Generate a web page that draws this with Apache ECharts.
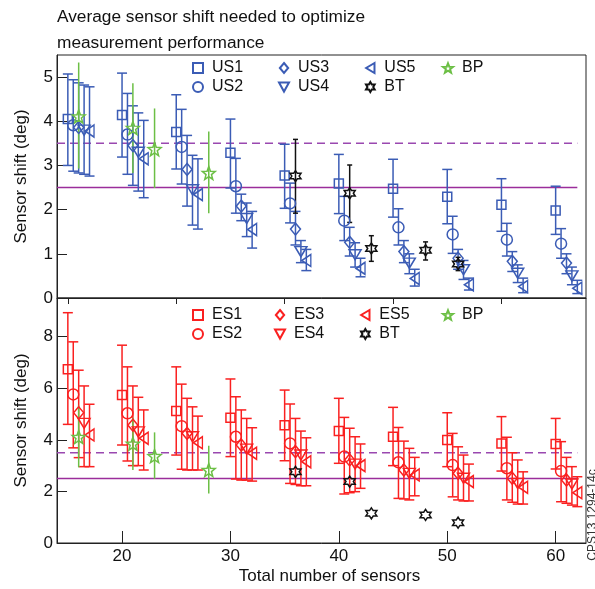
<!DOCTYPE html>
<html>
<head>
<meta charset="utf-8">
<script src="https://cdn.jsdelivr.net/npm/echarts@6/dist/echarts.min.js"></script>
<style>
  html, body { margin: 0; padding: 0; background: #fff; }
  #chart { width: 595px; height: 589px; }
</style>
</head>
<body>
<div id="chart"></div>
<script>
// group positions on x (total number of sensors) and the small offset of each sensor set
var groupX = [15, 20, 25, 30, 35, 40, 45, 50, 55, 60];
var setOffset = [0, 0.5, 1, 1.5, 2];

// each entry: [shift, low, high]
var us1 = [[4.05, 3.0, 5.07], [4.14, 3.19, 5.09], [3.76, 2.92, 4.6], [3.29, 2.49, 4.05], [2.77, 2.03, 3.48],
           [2.59, 1.91, 3.25], [2.47, 1.83, 3.14], [2.29, 1.68, 2.91], [2.11, 1.51, 2.7], [1.98, 1.44, 2.53]];
var us2 = [[3.91, 2.87, 4.94], [3.7, 2.8, 4.63], [3.42, 2.58, 4.27], [2.53, 1.92, 3.16], [2.14, 1.7, 2.6],
           [1.75, 1.3, 2.3], [1.6, 1.2, 2.02], [1.44, 1.01, 1.85], [1.32, 0.95, 1.69], [1.23, 0.9, 1.57]];
var us3 = [[3.86, 2.83, 4.87], [3.45, 2.55, 4.35], [2.91, 2.08, 3.68], [2.08, 1.75, 2.35], [1.56, 1.2, 1.96],
           [1.26, 0.95, 1.6], [1.05, 0.8, 1.3], [0.9, 0.65, 1.1], [0.83, 0.6, 1.05], [0.79, 0.55, 1.0]];
var us4 = [[3.8, 2.8, 4.82], [3.3, 2.42, 4.19], [2.45, 1.65, 3.23], [1.8, 1.39, 2.15], [1.05, 0.8, 1.3],
           [0.98, 0.7, 1.25], [0.79, 0.55, 1.0], [0.64, 0.42, 0.85], [0.56, 0.35, 0.75], [0.5, 0.3, 0.7]];
var us5 = [[3.78, 2.76, 4.78], [3.15, 2.27, 4.02], [2.34, 1.56, 3.15], [1.55, 1.13, 1.96], [0.85, 0.62, 1.1],
           [0.67, 0.48, 0.9], [0.44, 0.27, 0.65], [0.3, 0.18, 0.45], [0.26, 0.12, 0.45], [0.22, 0.1, 0.4]];

var es1 = [[6.74, 4.6, 8.93], [5.74, 3.8, 7.67], [5.12, 3.41, 6.83], [4.86, 3.35, 6.36], [4.57, 3.19, 5.93],
           [4.34, 3.09, 5.61], [4.12, 3.0, 5.26], [3.99, 2.96, 5.05], [3.86, 2.79, 4.9], [3.84, 2.87, 4.83]];
var es2 = [[5.76, 3.69, 7.8], [5.03, 3.18, 6.83], [4.53, 2.86, 6.16], [4.12, 2.48, 5.67], [3.86, 2.31, 5.39],
           [3.35, 1.9, 4.87], [3.13, 1.73, 4.48], [3.02, 1.79, 4.25], [2.9, 1.67, 4.1], [2.79, 1.6, 3.93]];
var es3 = [[5.05, 3.31, 6.7], [4.57, 3.0, 6.09], [4.25, 2.83, 5.61], [3.8, 2.44, 5.16], [3.54, 2.27, 4.83],
           [3.22, 1.95, 4.45], [2.83, 1.71, 3.95], [2.7, 1.67, 3.73], [2.51, 1.58, 3.5], [2.44, 1.54, 3.32]];
var es4 = [[4.64, 2.96, 6.09], [4.31, 3.0, 5.65], [4.12, 2.83, 5.28], [3.64, 2.44, 4.83], [3.41, 2.22, 4.34],
           [3.06, 1.99, 4.12], [2.7, 1.67, 3.67], [2.51, 1.63, 3.41], [2.31, 1.51, 3.22], [2.29, 1.47, 2.96]];
var es5 = [[4.19, 2.96, 5.38], [4.06, 2.83, 5.16], [3.89, 2.83, 4.92], [3.48, 2.4, 4.47], [3.15, 2.22, 4.08],
           [3.0, 2.12, 3.84], [2.64, 1.83, 3.32], [2.38, 1.63, 3.06], [2.16, 1.51, 2.76], [1.95, 1.41, 2.57]];

var bpX = [16, 21, 23, 28];
var bp = [[4.11, 2.93, 5.33], [3.85, 2.83, 4.86], [3.37, 2.49, 4.29], [2.83, 1.92, 3.77]];
var btX = [36, 41, 43, 48, 51];
var btTop = [[2.76, 1.92, 3.59], [2.37, 1.71, 3.01], [1.12, 0.83, 1.41], [1.08, 0.86, 1.27], [0.77, 0.62, 0.92]];
var btBottom = [2.76, 2.38, 1.15, 1.09, 0.79];

var refSolid = 2.5;
var refDashed = 3.5;
var refSpan = [14, 62];

var xMajor = [20, 30, 40, 50, 60];
var xMinor = [15, 25, 35, 45, 55];
var yTopTicks = [0, 1, 2, 3, 4, 5];
var yBottomTicks = [0, 2, 4, 6, 8];

var FONT = 'Liberation Sans';
var BLUE = '#3b5cb5';
var RED = '#fa2020';
var GREEN = '#6cbf45';
var BLACK = '#111';

function starPath(n, R, r) {
  var pts = [];
  for (var k = 0; k < n * 2; k++) {
    var a = (-90 + k * 180 / n) * Math.PI / 180;
    var rr = k % 2 === 0 ? R : r;
    pts.push((rr * Math.cos(a)).toFixed(2) + ',' + (rr * Math.sin(a)).toFixed(2));
  }
  return 'path://M' + pts.join(' L') + ' Z';
}

var SYM = {
  square: 'rect',
  circle: 'circle',
  diamond: 'path://M5,0 L10,6 L5,12 L0,6 Z',
  down: 'path://M0,0 L12,0 L6,11 Z',
  left: 'path://M10,0 L0,6 L10,12 Z',
  star: starPath(5, 10, 4.2),
  hex: starPath(6, 10, 5.77)
};

function points(xs, rows, off) {
  return rows.map(function (r, i) { return [xs[i] + off, Array.isArray(r) ? r[0] : r]; });
}
function bars(xs, rows, off) {
  return rows.map(function (r, i) { return [xs[i] + off, r[1], r[2]]; });
}

function errRender(capHalf, lw) {
  return function (params, api) {
    var x = api.value(0);
    var lo = api.coord([x, api.value(1)]);
    var hi = api.coord([x, api.value(2)]);
    var c = api.visual('color');
    var st = { stroke: c, lineWidth: lw };
    var kids = [{ type: 'line', shape: { x1: lo[0], y1: lo[1], x2: hi[0], y2: hi[1] }, style: st }];
    if (capHalf > 0) {
      kids.push({ type: 'line', shape: { x1: lo[0] - capHalf, y1: lo[1], x2: lo[0] + capHalf, y2: lo[1] }, style: st });
      kids.push({ type: 'line', shape: { x1: hi[0] - capHalf, y1: hi[1], x2: hi[0] + capHalf, y2: hi[1] }, style: st });
    }
    return { type: 'group', children: kids };
  };
}

var series = [];
function addSet(name, rows, xs, off, sym, size, color, panel, capHalf, showBars) {
  series.push({
    name: name, type: 'scatter', xAxisIndex: panel === 0 ? 0 : 1, yAxisIndex: panel,
    symbol: sym, symbolSize: size, z: 4,
    itemStyle: { color: 'rgba(255,255,255,0)', borderColor: color, borderWidth: 1.5, opacity: 1 },
    data: points(xs, rows, off)
  });
  if (showBars) {
    series.push({
      name: name, type: 'custom', xAxisIndex: panel === 0 ? 0 : 1, yAxisIndex: panel, z: 3,
      itemStyle: { color: color },
      encode: { x: 0, y: [1, 2] },
      renderItem: errRender(capHalf, 1.5),
      data: bars(xs, rows, off)
    });
  }
}

var usSets = [['US1', us1, SYM.square, 9], ['US2', us2, SYM.circle, 11], ['US3', us3, SYM.diamond, [10, 12]],
              ['US4', us4, SYM.down, [12, 10]], ['US5', us5, SYM.left, [9, 12]]];
var esSets = [['ES1', es1, SYM.square, 9], ['ES2', es2, SYM.circle, 11], ['ES3', es3, SYM.diamond, [10, 12]],
              ['ES4', es4, SYM.down, [12, 10]], ['ES5', es5, SYM.left, [9, 12]]];

usSets.forEach(function (s, i) { addSet(s[0], s[1], groupX, setOffset[i], s[2], s[3], BLUE, 0, 5, true); });
addSet('BT', btTop, btX, 0, SYM.hex, 11, BLACK, 0, 2.5, true);
addSet('BP', bp, bpX, 0, SYM.star, 13, GREEN, 0, 0, true);
esSets.forEach(function (s, i) { addSet(s[0], s[1], groupX, setOffset[i], s[2], s[3], RED, 1, 5, true); });
addSet('BT', btBottom, btX, 0, SYM.hex, 11, BLACK, 1, 0, false);
addSet('BP', bp, bpX, 0, SYM.star, 13, GREEN, 1, 0, true);

// reference levels in both panels
[0, 1].forEach(function (p) {
  series.push({
    type: 'line', xAxisIndex: p, yAxisIndex: p, z: 1, symbol: 'none', silent: true,
    lineStyle: { color: '#9b2d9b', width: 1.5 },
    data: [[refSpan[0], refSolid], [refSpan[1], refSolid]]
  });
  series.push({
    type: 'line', xAxisIndex: p, yAxisIndex: p, z: 1, symbol: 'none', silent: true,
    lineStyle: { color: '#9a48b0', width: 1.5, type: [8, 5] },
    data: [[refSpan[0], refDashed], [refSpan[1], refDashed]]
  });
});

var legendBase = {
  orient: 'vertical', itemWidth: 10, itemHeight: 10, itemGap: 3, padding: 0, selectedMode: false,
  textStyle: { fontFamily: FONT, fontSize: 16, color: BLACK, padding: [0, 0, 0, 4] }
};
function legendAt(left, top, names) {
  return Object.assign({}, legendBase, { left: left, top: top, data: names });
}

var axisText = { fontFamily: FONT, fontSize: 17, color: BLACK };

var option = {
  animation: false,
  backgroundColor: '#fff',
  title: {
    text: 'Average sensor shift needed to optimize\nmeasurement performance',
    left: 57, top: 4, padding: 0,
    textStyle: { fontFamily: FONT, fontSize: 17.3, fontWeight: 'normal', color: BLACK, lineHeight: 26 }
  },
  legend: [
    legendAt(192, 60, ['US1', 'US2']),
    legendAt(278, 60, ['US3', 'US4']),
    legendAt(365, 60, ['US5', 'BT']),
    legendAt(442, 60, ['BP']),
    legendAt(192, 307, ['ES1', 'ES2']),
    legendAt(274, 307, ['ES3', 'ES4']),
    legendAt(360, 307, ['ES5', 'BT']),
    legendAt(442, 307, ['BP'])
  ],
  grid: [
    { left: 57, right: 9, top: 55, height: 243, show: true, borderColor: '#222', borderWidth: 1 },
    { left: 57, right: 9, top: 298, height: 245, show: true, borderColor: '#222', borderWidth: 1 }
  ],
  xAxis: [
    { gridIndex: 0, type: 'value', min: 14, max: 62.8,
      axisLine: { lineStyle: { color: '#222' } }, axisTick: { show: false }, axisLabel: { show: false }, splitLine: { show: false } },
    { gridIndex: 1, type: 'value', min: 14, max: 62.8,
      name: 'Total number of sensors', nameLocation: 'middle', nameGap: 25,
      nameTextStyle: Object.assign({}, axisText, { padding: [0, 0, 0, 16] }),
      axisLine: { lineStyle: { color: '#222' } },
      axisTick: { inside: true, length: 12, customValues: xMajor, lineStyle: { color: '#222' } },
      axisLabel: Object.assign({ customValues: xMajor, margin: 5 }, axisText),
      splitLine: { show: false } },
    { gridIndex: 1, type: 'value', min: 14, max: 62.8,
      axisLine: { show: false },
      axisTick: { inside: true, length: 6, customValues: xMinor, lineStyle: { color: '#222' } },
      axisLabel: { show: false }, splitLine: { show: false } }
  ],
  yAxis: [
    { gridIndex: 0, type: 'value', min: 0, max: 5.5,
      name: 'Sensor shift (deg)', nameLocation: 'middle', nameGap: 27, nameTextStyle: axisText,
      axisLine: { lineStyle: { color: '#222' } },
      axisTick: { inside: true, length: 10, customValues: yTopTicks, lineStyle: { color: '#222' } },
      axisLabel: Object.assign({ customValues: yTopTicks, margin: 4 }, axisText),
      splitLine: { show: false } },
    { gridIndex: 1, type: 'value', min: 0, max: 9.5,
      name: 'Sensor shift (deg)', nameLocation: 'middle', nameGap: 27, nameTextStyle: axisText,
      axisLine: { lineStyle: { color: '#222' } },
      axisTick: { inside: true, length: 10, customValues: yBottomTicks, lineStyle: { color: '#222' } },
      axisLabel: Object.assign({ customValues: yBottomTicks, margin: 4 }, axisText),
      splitLine: { show: false } }
  ],
  graphic: [{
    type: 'text', x: 593, y: 515, rotation: Math.PI / 2,
    style: { text: 'CPS13 1294-14c', fontFamily: FONT, fontSize: 12, fill: '#333', align: 'center', verticalAlign: 'middle' }
  }],
  series: series
};

var chart = echarts.init(document.getElementById('chart'), null, { renderer: 'canvas' });
chart.setOption(option);
</script>
</body>
</html>
